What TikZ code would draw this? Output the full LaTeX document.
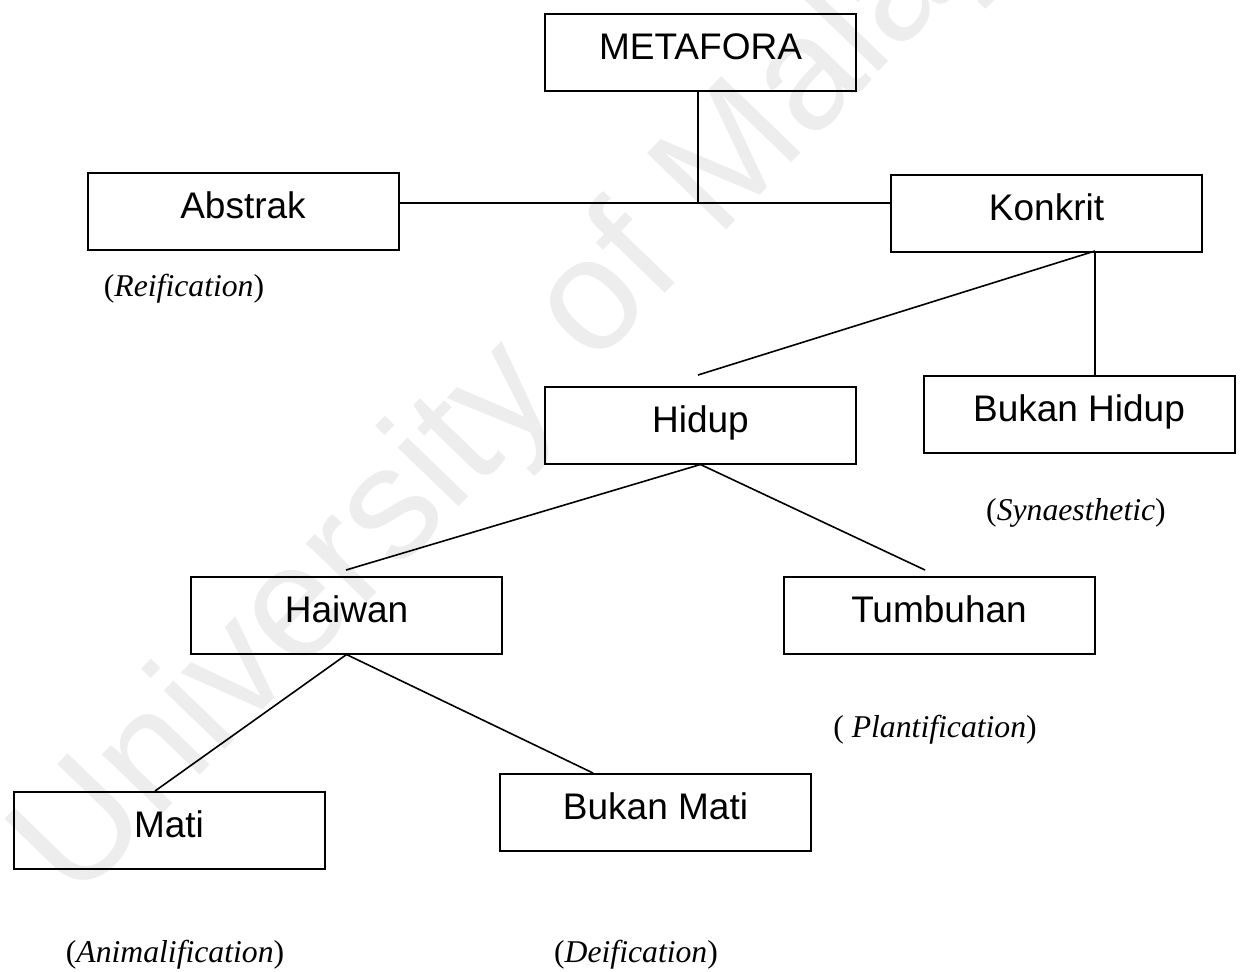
\documentclass[tikz,border=0pt]{standalone}
\usepackage{fontspec}
\setmainfont{Liberation Serif}
\newfontfamily\boxfont{Liberation Sans}
\usetikzlibrary{calc}
\tikzset{
  px/.style={x=0.5pt,y=-0.5pt},
  catbox/.style={draw=black,line width=1pt,rectangle,inner xsep=0pt,inner ysep=0pt,
    minimum width=155.5pt,text height=22.75pt,text depth=15.5pt,
    font=\boxfont\fontsize{18.5pt}{22pt}\selectfont,anchor=north},
  tag/.style={inner sep=0pt,font=\fontsize{15.85pt}{19pt}\selectfont},
  link/.style={draw=black,line width=0.8pt},
  wmark/.style={text=black!7,inner sep=0pt,font=\boxfont\fontsize{80pt}{90pt}\selectfont}
}
\begin{document}
\begin{tikzpicture}[px]
\useasboundingbox (0,0) rectangle (1240,971);
% watermark
\node[wmark,rotate=46,anchor=base west] (wm) at (75,905) {University of Malaya};
% boxes
\node[catbox] (METAFORA) at (700.5,13) {METAFORA};
\node[catbox] (Abstrak) at (243,172) {Abstrak};
\node[catbox] (Konkrit) at (1046.5,174) {Konkrit};
\node[catbox] (Hidup) at (700.5,386) {Hidup};
\node[catbox] (BukanHidup) at (1079,375) {Bukan Hidup};
\node[catbox] (Haiwan) at (346.5,576) {Haiwan};
\node[catbox] (Tumbuhan) at (939,576) {Tumbuhan};
\node[catbox] (Mati) at (169,791) {Mati};
\node[catbox] (BukanMati) at (655.5,773) {Bukan Mati};
% labels
\node[tag] (reif) at (184,289) {(\textit{Reification})};
\node[tag] (syn) at (1076,513) {(\textit{Synaesthetic})};
\node[tag] (plant) at (935,730) {( \textit{Plantification})};
\node[tag] (anim) at (175,955) {(\textit{Animalification})};
\node[tag] (deif) at (636,955) {(\textit{Deification})};
% connectors
\coordinate (j) at (698,203);
\coordinate (kb) at (1095,251);
\coordinate (hidupTop) at (698,375);
\coordinate (haiwanTop) at (346,570);
\coordinate (tumbTop) at (925,570);
\draw[link] (METAFORA.south -| j) -- (j);
\draw[link] (Abstrak.east |- j) -- (Konkrit.west |- j);
\draw[link] (kb) -- (kb |- BukanHidup.north);
\draw[link] (kb) -- (hidupTop);
\draw[link] (Hidup.south) -- (haiwanTop);
\draw[link] (Hidup.south) -- (tumbTop);
\draw[link] (Haiwan.south) -- (155,791);
\draw[link] (Haiwan.south) -- (593,773);
\end{tikzpicture}
\end{document}
